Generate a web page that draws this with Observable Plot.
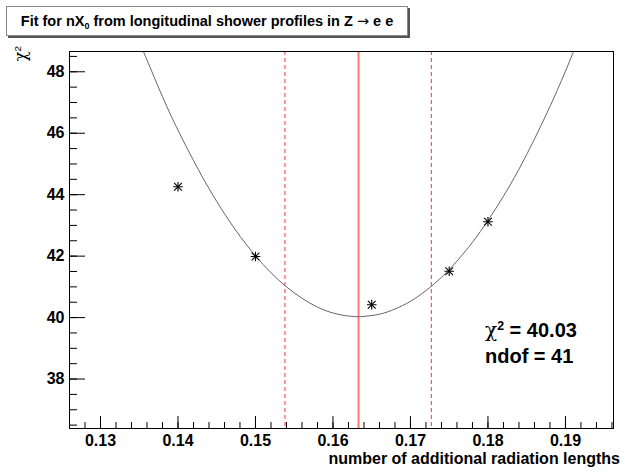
<!DOCTYPE html>
<html>
<head>
<meta charset="utf-8">
<script src="https://cdn.jsdelivr.net/npm/d3@7"></script>
<script src="https://cdn.jsdelivr.net/npm/@observablehq/plot@0.6"></script>
<style>
  body { margin: 0; background: #fff; }
  #wrap { position: relative; width: 635px; height: 476px; font-family: "Liberation Sans", Arial, sans-serif; font-weight: bold; color: #000; }
  #wrap svg { position: absolute; left: 0; top: 0; }
  .ov { position: absolute; white-space: nowrap; }
  #title { left: 6px; top: 6px; width: 400px; height: 28px; border: 1px solid #888; box-shadow: 2px 2px 0 #555; background: #fff; font-size: 14.5px; line-height: 28px; text-align: center; }
  #xlab { right: 15px; top: 451px; font-size: 16px; line-height: 16px; }
  #ylab { left: 0; top: 0; width: 60px; text-align: right; font-size: 16px; line-height: 18px; transform-origin: 0 0; transform: translate(12px, 106px) rotate(-90deg); font-weight: normal; }
  #stat { left: 485px; top: 317px; font-size: 20px; line-height: 26px; }
  .chi { font-family: "DejaVu Serif", serif; font-weight: normal; }
  .arr { font-family: "DejaVu Sans", sans-serif; font-weight: normal; }
  sup { font-size: 62%; vertical-align: 0.55em; line-height: 0; }
  sub { font-size: 62%; vertical-align: -0.3em; line-height: 0; }
</style>
</head>
<body>
<div id="wrap"></div>
<script>
// measured points (chi2 vs number of additional radiation lengths)
const xPoints = [0.14, 0.15, 0.165, 0.175, 0.18];
const chi2Points = [44.26, 41.99, 40.42, 41.51, 43.12];

// fitted curve
const fitX = [0.1350, 0.1380, 0.1400, 0.1420, 0.1440, 0.1460, 0.1480, 0.1500, 0.1520, 0.1540, 0.1560, 0.1580, 0.1600, 0.1620, 0.1633, 0.1640, 0.1660, 0.1680, 0.1700, 0.1720, 0.1740, 0.1760, 0.1780, 0.1800, 0.1820, 0.1840, 0.1860, 0.1880, 0.1900, 0.1920];
const fitChi2 = [48.99, 47.19, 46.10, 45.11, 44.20, 43.38, 42.65, 42.01, 41.46, 41.00, 40.63, 40.34, 40.15, 40.05, 40.03, 40.04, 40.11, 40.28, 40.53, 40.88, 41.31, 41.84, 42.45, 43.16, 43.95, 44.83, 45.81, 46.87, 48.02, 49.26];

// best fit and +-1 sigma
const bestFit = 0.1633;
const sigmaBounds = [0.1538, 0.1727];

// axes
const xDomain = [0.126, 0.1962];
const yDomain = [36.39, 48.66];
const xTicks = [0.13, 0.14, 0.15, 0.16, 0.17, 0.18, 0.19];
const yTicks = [38, 40, 42, 44, 46, 48];
const xMinorTicks = d3.range(63, 99).map(i => i * 0.002);
const yMinorTicks = d3.range(73, 98).map(i => i * 0.5);

const W = 635, H = 476, mL = 69, mR = 22, mT = 51, mB = 48;
const innerW = W - mL - mR, innerH = H - mT - mB;

const points = xPoints.map((x, i) => ({x, y: chi2Points[i]}));
const fit = fitX.map((x, i) => ({x, y: fitChi2[i]}));

const chart = Plot.plot({
  width: W, height: H,
  marginLeft: mL, marginRight: mR, marginTop: mT, marginBottom: mB,
  style: { fontFamily: "'Liberation Sans', Arial, sans-serif", fontSize: "16px", fontWeight: "bold", background: "transparent", color: "#000" },
  x: { domain: xDomain, label: null },
  y: { domain: yDomain, label: null },
  marks: [
    Plot.ruleX([bestFit], { stroke: "#f77", strokeWidth: 2 }),
    Plot.ruleX(sigmaBounds, { stroke: "#f55", strokeWidth: 1.2, strokeDasharray: "4,3" }),
    Plot.line(fit, { x: "x", y: "y", stroke: "#666", strokeWidth: 1, curve: "natural", clip: true }),
    Plot.dot(points, { x: "x", y: "y", symbol: "plus", r: 3.2, stroke: "#000", strokeWidth: 1.1 }),
    Plot.dot(points, { x: "x", y: "y", symbol: "times", r: 3.6, stroke: "#000", strokeWidth: 1.1 }),
    Plot.tickY(yTicks, { y: d => d, insetRight: innerW - 16, stroke: "#000" }),
    Plot.tickY(yMinorTicks, { y: d => d, insetRight: innerW - 8, stroke: "#000" }),
    Plot.tickX(xTicks, { x: d => d, insetTop: innerH - 12, stroke: "#000" }),
    Plot.tickX(xMinorTicks, { x: d => d, insetTop: innerH - 6, stroke: "#000" }),
    Plot.frame({ stroke: "#000" }),
    Plot.axisX(xTicks, { tickSize: 0, tickPadding: 6, tickFormat: d3.format(".2f"), label: null }),
    Plot.axisY(yTicks, { tickSize: 0, tickPadding: 5, tickFormat: d3.format("d"), label: null })
  ]
});

const wrap = document.getElementById("wrap");
wrap.appendChild(chart);
wrap.insertAdjacentHTML("beforeend",
  '<div class="ov" id="title">Fit for nX<sub>0</sub> from longitudinal shower profiles in Z <span class="arr">\u2192</span> e e</div>' +
  '<div class="ov" id="xlab">number of additional radiation lengths</div>' +
  '<div class="ov" id="ylab"><span class="chi">\u03c7</span><sup>2</sup></div>' +
  '<div class="ov" id="stat"><span class="chi">\u03c7</span><sup>2</sup> = 40.03<br>ndof = 41</div>'
);
</script>
</body>
</html>
